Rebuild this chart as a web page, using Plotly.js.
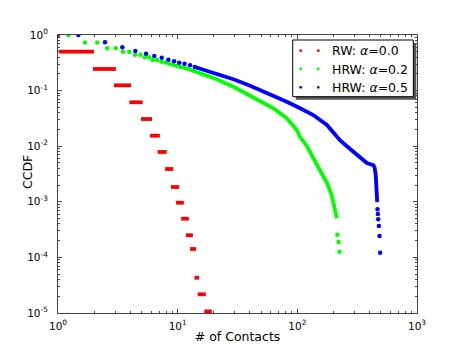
<!DOCTYPE html>
<html>
<head>
<meta charset="utf-8">
<script src="https://cdn.plot.ly/plotly-3.0.1.min.js"></script>
<style>
  html, body { margin: 0; padding: 0; background: #fff; }
  #graph { width: 463px; height: 348px; }
</style>
</head>
<body>
<div id="graph"></div>
<script>
// RW alpha=0.0 : steps (start, end, level) + first point
const rwStart = [1.02, 1.96, 2.94, 3.95, 4.94, 5.88, 6.8, 7.85, 8.8, 9.7, 10.7, 11.7, 12.7, 13.8, 14.7, 16.7];
const rwEnd = [2.0, 3.05, 4.08, 5.1, 6.1, 7.1, 8.1, 9.2, 10.3, 11.25, 12.4, 13.4, 14.25, 15.1, 17.2, 19.3];
const rwLevel = [0.501, 0.245, 0.1245, 0.0616, 0.0308, 0.01545, 0.00787, 0.00389, 0.001845, 0.000964,
  0.000497, 0.00025, 0.0001415, 0.0000431, 0.0000217, 0.0000107];
const rwDotX = [1];
const rwDotY = [1];

// HRW alpha=0.2 : separate dots (head and tail) + dense part
const hrw2DotX = [1.22, 1.68, 2.13, 2.58, 3.04, 3.49, 3.95, 4.4, 4.88, 5.31, 5.77, 6.19, 6.73, 7.31, 7.89, 8.48, 9.16, 9.83, 10.5,
  216, 221, 225];
const hrw2DotY = [1, 0.73, 0.73, 0.58, 0.58, 0.5, 0.5, 0.44, 0.44, 0.4, 0.4, 0.355, 0.355, 0.331, 0.32, 0.305, 0.292, 0.277, 0.266,
  0.000256, 0.000189, 0.000127];
const hrw2LineX = [10.5, 11.2, 15.4, 21.2, 29.2, 40.3, 48.9, 63.1, 81.6, 99, 105.5, 120, 136, 150, 165, 179, 194, 203, 214];
const hrw2LineY = [0.266, 0.262, 0.205, 0.16, 0.1175, 0.081, 0.063, 0.0481, 0.0318, 0.01955, 0.0146, 0.0101, 0.00614,
  0.00414, 0.00303, 0.00209, 0.0013, 0.00084, 0.000505];

// HRW alpha=0.5
const hrw5DotX = [1.48, 2.47, 3.45, 4.43, 5.44, 6.38, 7.36, 8.36, 9.33, 10.3, 11.4, 12.7, 13.9,
  467.7, 471, 474, 480, 486, 492];
const hrw5DotY = [1, 0.74, 0.6, 0.515, 0.46, 0.42, 0.39, 0.36, 0.336, 0.318, 0.305, 0.285, 0.266,
  0.000733, 0.000604, 0.000485, 0.000367, 0.000243, 0.0001216];
const hrw5LineX = [13.9, 15.4, 18.06, 21.2, 29.2, 40.3, 48.9, 63.1, 81.6, 105.5, 136, 176.6, 228, 276, 335, 381, 433, 443, 452, 459, 465];
const hrw5LineY = [0.266, 0.248, 0.225, 0.199, 0.16, 0.1225, 0.1025, 0.0834, 0.0632, 0.0481, 0.0364, 0.0241, 0.01267,
  0.0089, 0.00627, 0.00499, 0.00453, 0.00405, 0.00303, 0.002, 0.00099];

const seriesNames = ['RW: <i>α</i>=0.0', 'HRW: <i>α</i>=0.2', 'HRW: <i>α</i>=0.5'];
const seriesColors = ['#ff0000', '#00ff00', '#0000ff'];

const xTickVals = [1, 10, 100, 1000];
const xTickText = ['10<sup>0</sup>', '10<sup>1</sup>', '10<sup>2</sup>', '10<sup>3</sup>'];
const yTickVals = [1e-5, 1e-4, 1e-3, 1e-2, 1e-1, 1];
const yTickText = ['10<sup>-5</sup>', '10<sup>-4</sup>', '10<sup>-3</sup>', '10<sup>-2</sup>', '10<sup>-1</sup>', '10<sup>0</sup>'];

function minorTicks(lo, hi) {
    const out = [];
    for (let e = lo; e < hi; e++) {
        for (let m = 2; m <= 9; m++) out.push(m * Math.pow(10, e));
    }
    return out;
}

// red steps as short segments
const rwSegX = [], rwSegY = [];
rwStart.forEach((s, i) => {
    rwSegX.push(s, rwEnd[i], null);
    rwSegY.push(rwLevel[i], rwLevel[i], null);
});

const traces = [
    { x: rwSegX, y: rwSegY, mode: 'lines', line: { color: seriesColors[0], width: 3.8 }, hoverinfo: 'skip' },
    { x: rwDotX, y: rwDotY, mode: 'markers', marker: { color: seriesColors[0], size: 4.5 } },
    { x: hrw2LineX, y: hrw2LineY, mode: 'lines', line: { color: seriesColors[1], width: 3.8 } },
    { x: hrw2DotX, y: hrw2DotY, mode: 'markers', marker: { color: seriesColors[1], size: 4.5 } },
    { x: hrw5LineX, y: hrw5LineY, mode: 'lines', line: { color: seriesColors[2], width: 3.8 } },
    { x: hrw5DotX, y: hrw5DotY, mode: 'markers', marker: { color: seriesColors[2], size: 4.5 } },
];

// plot area in pixels, used for the hand made legend
const L = 58, R = 417, T = 35, B = 313;
const px = v => (v - L) / (R - L);
const py = v => (B - v) / (B - T);

const shapes = [
    { type: 'rect', xref: 'paper', yref: 'paper', x0: px(295.7), x1: px(416.3), y0: py(99.7), y1: py(43),
      fillcolor: '#555', line: { width: 0 } },
    { type: 'rect', xref: 'paper', yref: 'paper', x0: px(292.7), x1: px(413.3), y0: py(96.7), y1: py(40),
      fillcolor: '#fff', line: { color: '#000', width: 1 } },
];
const annotations = [];
const rows = [50.7, 69, 87.3];
rows.forEach((ry, i) => {
    [300.7, 318.3].forEach(dx => {
        shapes.push({ type: 'circle', xref: 'paper', yref: 'paper',
            x0: px(dx - 1.4), x1: px(dx + 1.4), y0: py(ry + 1.4), y1: py(ry - 1.4),
            fillcolor: seriesColors[i], line: { width: 0 } });
    });
    annotations.push({ xref: 'paper', yref: 'paper', x: px(330), y: py(ry), xanchor: 'left', yanchor: 'middle',
        text: seriesNames[i], showarrow: false, font: { size: 12.5, color: '#000' } });
});

// y title as rotated text, placed like the original
annotations.push({ xref: 'paper', yref: 'paper', x: px(27), y: py(172), xanchor: 'center', yanchor: 'middle',
    text: 'CCDF', textangle: -90, showarrow: false, font: { size: 12.5, color: '#000' } });

const axisBase = {
    type: 'log',
    showgrid: false,
    zeroline: false,
    showline: true,
    linecolor: '#444',
    linewidth: 1,
    mirror: 'allticks',
    ticks: 'inside',
    ticklen: 4,
    tickcolor: '#444',
    tickfont: { size: 10.5, color: '#000' },
    tickmode: 'array',
};

const layout = {
    width: 463,
    height: 348,
    margin: { l: L, r: 463 - R, t: T, b: 348 - B },
    paper_bgcolor: '#fff',
    plot_bgcolor: '#fff',
    font: { family: 'DejaVu Sans', color: '#000' },
    showlegend: false,
    xaxis: Object.assign({}, axisBase, {
        range: [0, 3],
        tickvals: xTickVals,
        ticktext: xTickText,
        ticklabelstandoff: 3,
        minor: { tickmode: 'array', tickvals: minorTicks(0, 3), ticks: 'inside', ticklen: 2, tickcolor: '#444' },
        title: { text: '# of Contacts', font: { size: 12.5 }, standoff: 1 },
    }),
    yaxis: Object.assign({}, axisBase, {
        range: [-5, 0],
        tickvals: yTickVals,
        ticktext: yTickText,
        ticklabelstandoff: 7,
        minor: { tickmode: 'array', tickvals: minorTicks(-5, 0), ticks: 'inside', ticklen: 2, tickcolor: '#444' },
    }),
    shapes: shapes,
    annotations: annotations,
};

Plotly.newPlot('graph', traces, layout, { displayModeBar: false, staticPlot: true });
</script>
</body>
</html>
